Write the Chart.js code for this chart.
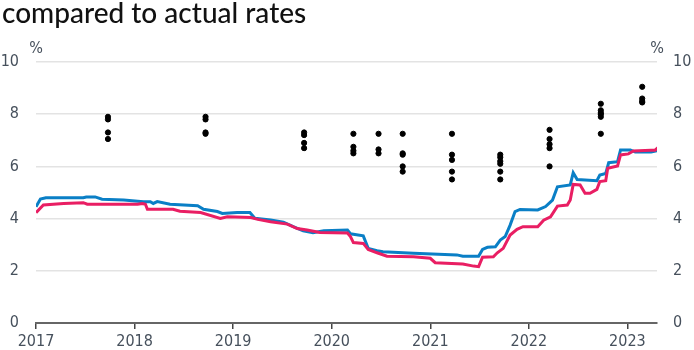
<!DOCTYPE html>
<html>
<head>
<meta charset="utf-8">
<script src="https://cdn.jsdelivr.net/npm/chart.js@4.4.0/dist/chart.umd.min.js"></script>
<style>
  html, body { margin: 0; padding: 0; background: #fff; }
  #wrap { position: relative; width: 694px; height: 350px; overflow: hidden; }
  #title { position: absolute; left: 2px; top: -5px; font: 500 28px Lato, sans-serif; color: #111; white-space: nowrap; }
  canvas { position: absolute; left: 0; top: 0; }
</style>
</head>
<body>
<div id="wrap">
  <canvas id="ratesChart" width="694" height="350"></canvas>
  <div id="title">compared to actual rates</div>
</div>
<script>
// x tick labels
const yearTicks = [2017, 2018, 2019, 2020, 2021, 2022, 2023];

// blue series (decimal years / %)
const blueYears = [2017.00, 2017.045, 2017.10, 2017.48, 2017.51, 2017.60, 2017.67, 2017.89, 2018.09, 2018.16,
  2018.19, 2018.23, 2018.36, 2018.64, 2018.70, 2018.84, 2018.89, 2019.04, 2019.17, 2019.22,
  2019.38, 2019.51, 2019.61, 2019.71, 2019.81, 2019.92, 2020.16, 2020.19, 2020.32, 2020.37,
  2020.46, 2020.52, 2020.83, 2021.27, 2021.33, 2021.49, 2021.53, 2021.58, 2021.66, 2021.71,
  2021.76, 2021.81, 2021.86, 2021.91, 2022.09, 2022.17, 2022.24, 2022.29, 2022.42, 2022.45,
  2022.49, 2022.69, 2022.72, 2022.78, 2022.81, 2022.90, 2022.93, 2023.03, 2023.08, 2023.24, 2023.30];
const blueRates = [4.45, 4.75, 4.80, 4.80, 4.83, 4.83, 4.74, 4.71, 4.65, 4.65,
  4.58, 4.65, 4.55, 4.49, 4.36, 4.27, 4.20, 4.23, 4.23, 4.01,
  3.95, 3.86, 3.69, 3.53, 3.46, 3.53, 3.56, 3.42, 3.34, 2.86,
  2.77, 2.73, 2.67, 2.61, 2.56, 2.56, 2.82, 2.90, 2.92, 3.18,
  3.31, 3.75, 4.27, 4.35, 4.33, 4.46, 4.71, 5.22, 5.29, 5.76,
  5.50, 5.45, 5.67, 5.73, 6.14, 6.18, 6.63, 6.63, 6.55, 6.55, 6.60];

// pink series
const pinkYears = [2017.00, 2017.075, 2017.28, 2017.48, 2017.52, 2018.03, 2018.08, 2018.11, 2018.13, 2018.39,
  2018.46, 2018.67, 2018.87, 2018.94, 2019.18, 2019.25, 2019.38, 2019.55, 2019.65, 2019.75,
  2019.88, 2020.16, 2020.19, 2020.22, 2020.32, 2020.37, 2020.46, 2020.56, 2020.83, 2021.00,
  2021.05, 2021.33, 2021.44, 2021.49, 2021.53, 2021.64, 2021.68, 2021.74, 2021.81, 2021.88,
  2021.94, 2022.09, 2022.15, 2022.22, 2022.29, 2022.39, 2022.42, 2022.45, 2022.52, 2022.57,
  2022.62, 2022.69, 2022.72, 2022.78, 2022.80, 2022.90, 2022.93, 2023.01, 2023.06, 2023.24,
  2023.28, 2023.31];
const pinkRates = [4.23, 4.52, 4.58, 4.61, 4.55, 4.55, 4.58, 4.55, 4.36, 4.36,
  4.28, 4.23, 4.01, 4.07, 4.04, 3.97, 3.88, 3.79, 3.62, 3.56,
  3.47, 3.45, 3.31, 3.08, 3.05, 2.82, 2.69, 2.56, 2.54, 2.48,
  2.31, 2.26, 2.18, 2.16, 2.52, 2.54, 2.69, 2.86, 3.37, 3.59,
  3.69, 3.69, 3.94, 4.07, 4.48, 4.52, 4.71, 5.31, 5.29, 4.97,
  4.97, 5.12, 5.42, 5.45, 5.93, 6.02, 6.44, 6.48, 6.59, 6.62,
  6.62, 6.72];

// forecast dots: one column per forecast date
const forecastYears = [2017.73, 2018.72, 2019.72, 2020.22, 2020.475, 2020.72, 2021.22, 2021.71, 2022.21, 2022.73, 2023.15];
const forecastRates = [
  [7.9, 7.8, 7.3, 7.05],
  [7.9, 7.8, 7.3, 7.25],
  [7.3, 7.2, 6.9, 6.7],
  [7.25, 6.75, 6.6, 6.5],
  [7.25, 6.65, 6.5],
  [7.25, 6.5, 6.45, 6.0, 5.8],
  [7.25, 6.45, 6.25, 5.8, 5.5],
  [6.45, 6.35, 6.2, 6.1, 5.8, 5.5],
  [7.4, 7.05, 6.85, 6.7, 6.0],
  [8.4, 8.15, 8.05, 8.0, 7.9, 7.25],
  [9.05, 8.6, 8.5, 8.45]
];

const labelColor = '#46505c';
const tickFont = { family: "'Liberation Sans Narrow', 'DejaVu Sans Condensed', 'Liberation Sans', sans-serif", size: 16 };

const dots = [];
forecastYears.forEach((yr, i) => {
    forecastRates[i].forEach(v => dots.push({ x: yr, y: v }));
});

// "%" unit labels above both axes
const unitLabels = {
    id: 'unitLabels',
    afterDraw(chart) {
        const ctx = chart.ctx;
        const area = chart.chartArea;
        ctx.save();
        ctx.fillStyle = labelColor;
        ctx.font = Chart.helpers.fontString(tickFont.size, 'normal', tickFont.family);
        ctx.textAlign = 'center';
        ctx.textBaseline = 'middle';
        ctx.fillText('%', area.left, area.top - 13);
        ctx.fillText('%', area.right, area.top - 13);
        ctx.restore();
    }
};

new Chart(document.getElementById('ratesChart'), {
    type: 'scatter',
    data: {
        datasets: [
            {
                label: 'Forecasts',
                data: dots,
                backgroundColor: '#000',
                borderColor: '#000',
                pointRadius: 2.6,
                order: 0
            },
            {
                label: 'Pink',
                data: pinkYears.map((x, i) => ({ x: x, y: pinkRates[i] })),
                showLine: true,
                borderColor: '#e91e63',
                borderWidth: 3,
                pointRadius: 0,
                tension: 0,
                order: 1
            },
            {
                label: 'Blue',
                data: blueYears.map((x, i) => ({ x: x, y: blueRates[i] })),
                showLine: true,
                borderColor: '#0a7fc6',
                borderWidth: 3,
                pointRadius: 0,
                tension: 0,
                order: 2
            }
        ]
    },
    options: {
        responsive: false,
        animation: false,
        layout: { padding: { top: 62, left: 0, right: 0, bottom: 0 } },
        plugins: {
            legend: { display: false },
            tooltip: { enabled: false }
        },
        scales: {
            x: {
                type: 'linear',
                min: 2017,
                max: 2023.3,
                afterBuildTicks: axis => { axis.ticks = yearTicks.map(v => ({ value: v })); },
                afterFit: axis => { axis.height = 27; },
                grid: { drawOnChartArea: false, drawTicks: true, tickLength: 6, color: '#444', lineWidth: 1.5 },
                border: { display: true, color: '#666', width: 2 },
                ticks: {
                    color: labelColor,
                    font: tickFont,
                    padding: 3,
                    maxRotation: 0,
                    autoSkip: false,
                    callback: v => String(v)
                }
            },
            y: {
                position: 'left',
                min: 0,
                max: 10,
                afterFit: axis => { axis.width = 36; },
                grid: { color: '#e3e3e3', lineWidth: 1.5, drawTicks: false },
                border: { display: false },
                ticks: { stepSize: 2, color: labelColor, font: tickFont, padding: 17 }
            },
            y2: {
                position: 'right',
                min: 0,
                max: 10,
                afterFit: axis => { axis.width = 37; },
                grid: { display: false, drawTicks: false },
                border: { display: false },
                ticks: { stepSize: 2, color: labelColor, font: tickFont, padding: 16 }
            }
        }
    },
    plugins: [unitLabels]
});
</script>
</body>
</html>
